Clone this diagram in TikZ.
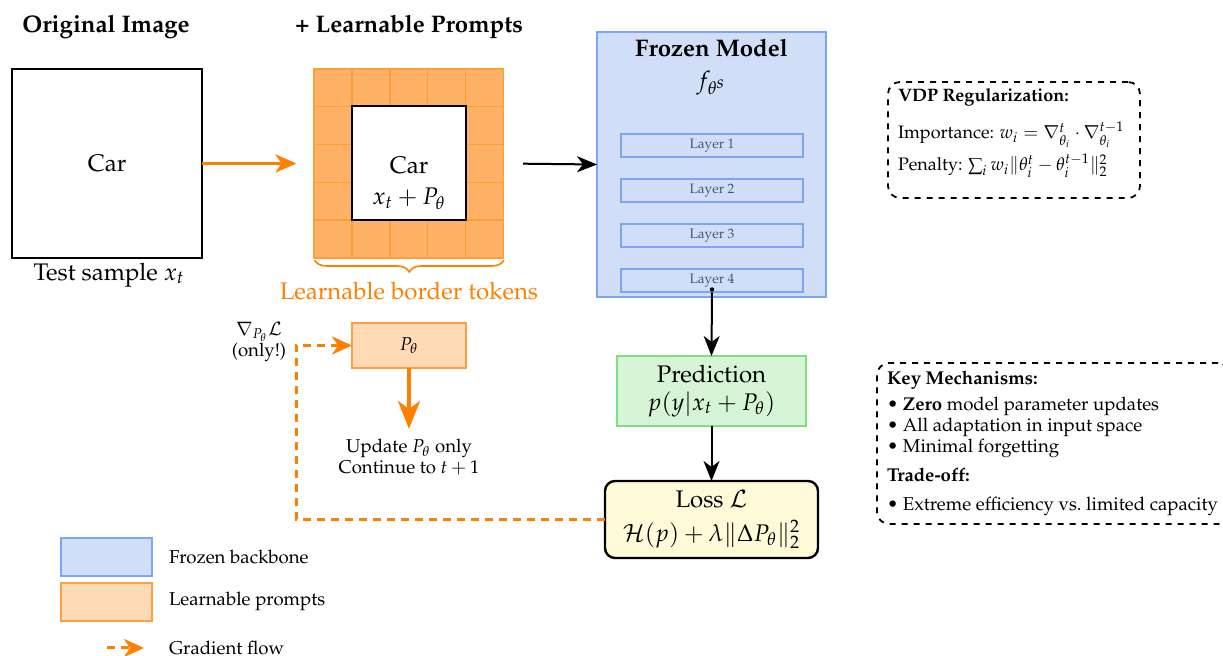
\documentclass[tikz,border=0pt]{standalone}
\usepackage[T1]{fontenc}
\usepackage{mathpazo}
\usetikzlibrary{arrows.meta,decorations.pathreplacing,calc}

\definecolor{flow}{RGB}{255,128,0}
\definecolor{cellfill}{RGB}{255,178,102}
\definecolor{cellline}{RGB}{255,158,56}
\definecolor{frozenfill}{RGB}{208,222,248}
\definecolor{frozenline}{RGB}{125,166,240}
\definecolor{layertext}{RGB}{70,85,115}
\definecolor{predfill}{RGB}{214,245,214}
\definecolor{predline}{RGB}{130,222,130}
\definecolor{lossfill}{RGB}{255,250,215}
\definecolor{promptfill}{RGB}{255,218,180}
\definecolor{promptline}{RGB}{255,160,64}

\newcommand\FontTitle{\fontsize{12}{14}\selectfont\bfseries}
\newcommand\FontBig{\fontsize{12}{14}\selectfont}
\newcommand\FontSmall{\fontsize{9.3}{10.5}\selectfont}
\newcommand\FontNote{\fontsize{9}{10.5}\selectfont}
\newcommand\FontTiny{\fontsize{6.8}{8}\selectfont}

\begin{document}
\begin{tikzpicture}[x=0.5pt,y=-0.5pt,
  every node/.style={inner sep=0pt,outer sep=0pt},
  titletext/.style={font=\FontTitle},
  imgbox/.style={draw=black,line width=1pt,minimum width=95pt,minimum height=94.5pt,font=\FontBig},
  innerbox/.style={draw=black,fill=white,line width=1pt,minimum width=57pt,minimum height=57pt},
  cell/.style={fill=cellfill,draw=cellline,line width=0.7pt},
  frozenbox/.style={draw=frozenline,fill=frozenfill,line width=1pt,minimum width=114.5pt,minimum height=132.5pt},
  layerbox/.style={draw=frozenline,fill=frozenfill,line width=1pt,minimum width=91pt,minimum height=11.5pt,font=\FontTiny,text=layertext},
  predbox/.style={draw=predline,fill=predfill,line width=0.6pt,minimum width=94.5pt,minimum height=35pt,align=center,font=\FontBig},
  lossbox/.style={draw=black,fill=lossfill,line width=1.2pt,rounded corners=5pt,minimum width=106.5pt,minimum height=38.5pt,align=center,font=\FontBig},
  promptbox/.style={draw=promptline,fill=promptfill,line width=1pt,minimum width=57pt,minimum height=22.5pt,font=\FontSmall},
  notebox/.style={draw=black,dashed,line width=0.9pt,rounded corners=6pt},
  blackarrow/.style={draw=black,line width=1pt,-{Stealth[length=10pt,width=8pt,inset=3pt]}},
  orangearrow/.style={draw=flow,line width=1.5pt,-{Stealth[length=10.5pt,width=9pt,inset=3pt]}},
  orangebig/.style={draw=flow,line width=2pt,-{Stealth[length=14pt,width=11pt,inset=4pt]}},
  gradflow/.style={draw=flow,line width=1.5pt,dash pattern=on 4pt off 3pt,-{Stealth[length=10pt,width=9pt,inset=3pt]}},
]
\useasboundingbox (0,0) rectangle (1223,656);

% column titles
\node[titletext] (t1) at (106,27) {Original Image};
\node[titletext] (t2) at (409,27) {+ Learnable Prompts};

% original test image
\node[imgbox] (orig) at (107,163.5) {Car};
\node[font=\FontBig] (cap1) at (109,275) {Test sample $x_t$};

% prompted image: 5x5 grid of border tokens
\foreach \i in {0,...,4}
  \foreach \j in {0,...,4}
    \draw[cell] ({314+37.9*\i},{69+37.8*\j}) rectangle ++(37.9,37.8);
\node[minimum width=94.75pt,minimum height=94.5pt] (grid) at (409.25,163.5) {};
\node[innerbox] (inner) at (409.25,163.5) {};
\node[font=\FontBig] (carB) at (409,165) {Car};
\node[font=\FontBig] (xtp) at (409,199) {$x_t + P_\theta$};

% brace under the border tokens
\draw[flow,line width=0.8pt,decorate,decoration={brace,mirror,amplitude=6pt}]
  (grid.south west) ++(0,2) -- ($(grid.south east)+(0,2)$);
\node[font=\FontBig,text=flow] (btok) at (409,291) {Learnable border tokens};

\draw[orangearrow,shorten >=9pt] (orig.east) -- (grid.west);

% frozen model with its layers
\node[frozenbox] (frozen) at (711.5,164.5) {};
\node[titletext] (ftitle) at (711.5,48) {Frozen Model};
\node[font=\FontBig] (fsym) at (711.5,83) {$f_{\theta^{\scriptstyle s}}$};
\foreach \k/\yy in {1/145.5,2/190.5,3/236,4/281}
  \node[layerbox] (L\k) at (712,\yy) {Layer \k};

\draw[blackarrow,shorten <=9.5pt] (grid.east) -- (frozen.west);

% prediction and loss
\node[predbox] (pred) at (711.5,391) {Prediction\\$p(y|x_t+P_\theta)$};
\node[lossbox] (loss) at (711.5,519.5) {Loss $\mathcal{L}$\\[3pt]$\mathcal{H}(p)+\lambda\|\Delta P_\theta\|_2^2$};

\fill (L4.south) ++(0,-3) circle (1.1pt);
\draw[blackarrow] (L4.south) -- (pred.north);
\draw[blackarrow] (pred.south) -- (loss.north);

% prompt update path
\node[promptbox] (pth) at (409,345.5) {$P_\theta$};
\coordinate (updtip) at (409,429);
\draw[orangebig] (pth.south) -- (updtip);
\node[font=\FontSmall,align=center] (upd) at (409,457.5) {Update $P_\theta$ only\\Continue to $t+1$};

\coordinate (fbx) at (296,0);
\draw[gradflow] (loss.west) -- (loss.west -| fbx) |- (pth.west);
\node[font=\FontSmall,align=center] (glabel) at (259,342) {$\nabla_{P_\theta}\mathcal{L}$\\(only!)};

% regularization note
\node[notebox,minimum width=126pt,minimum height=58pt] (vdp) at (1014,140) {};
\node[font=\FontNote,align=left,anchor=north west] (vdptext) at (898,89) {%
  \textbf{VDP Regularization:}\\[6.5pt]
  Importance: $w_i = \nabla^t_{\theta_i}\cdot\nabla^{t-1}_{\theta_i}$\\[2pt]
  Penalty: $\sum_i w_i\|\theta_i^t-\theta_i^{t-1}\|_2^2$};

% key mechanisms note (runs past the right margin)
\node[notebox,minimum width=176.5pt,minimum height=80.5pt] (keys) at (1053.5,443.5) {};
\node[font=\FontSmall,align=left,anchor=north west] (keytext) at (887,371) {%
  \textbf{Key Mechanisms:}\\[2.5pt]
  \textbullet\ \textbf{Zero} model parameter updates\\
  \textbullet\ All adaptation in input space\\
  \textbullet\ Minimal forgetting\\[4pt]
  \textbf{Trade-off:}\\[4pt]
  \textbullet\ Extreme efficiency vs.\ limited capacity};

% legend
\node[draw=frozenline,fill=frozenfill,line width=1pt,minimum width=45.5pt,minimum height=19pt] (lg1) at (106.5,557) {};
\node[font=\FontSmall,anchor=west] (lt1) at (169,557) {Frozen backbone};
\node[draw=promptline,fill=promptfill,line width=1pt,minimum width=45.5pt,minimum height=19pt] (lg2) at (106.5,602.5) {};
\node[font=\FontSmall,anchor=west] (lt2) at (169,601) {Learnable prompts};
\coordinate (ga) at (107,648);
\coordinate (gb) at (144,648);
\draw[gradflow] (ga) -- (gb);
\node[font=\FontSmall,anchor=west] (lt3) at (169,648) {Gradient flow};
\end{tikzpicture}
\end{document}
